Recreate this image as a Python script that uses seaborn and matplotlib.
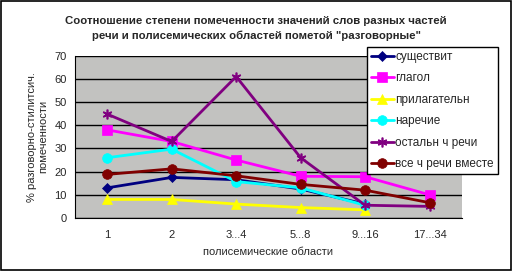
import numpy as np
import pandas as pd
import seaborn as sns
import matplotlib
matplotlib.use("Agg")
import matplotlib.pyplot as plt

categories = ["1", "2", "3...4", "5...8", "9...16", "17...34"]
series_names = ["существит", "глагол", "прилагательн", "наречие",
                "остальн ч речи", "все ч речи вместе"]
noun = [13, 17.5, 16.5, 12.5, 6, np.nan]
verb = [38, 33, 25, 18, 17.8, 10]
adj = [8, 8, 6, 4.5, 3.5, np.nan]
adv = [26, 29.7, 15.7, 13, 5.5, np.nan]
other = [44.8, 33, 61, 26, 5.5, 5]
allpos = [18.8, 21.2, 18.2, 14.5, 12, 6.6]
values = [noun, verb, adj, adv, other, allpos]

colors = ["#000080", "#ff00ff", "#ffff00", "#00ffff", "#800080", "#800000"]
markers = ["D", "s", "^", "o", (6, 2, 0), "o"]
msizes = [5, 7, 7, 7, 7, 7]

sns.set_style("white")
plt.rcParams['font.family'] = ['Liberation Sans', 'DejaVu Sans']

rows = []
for name, vals in zip(series_names, values):
    for i, v in enumerate(vals):
        rows.append({"x": i, "y": v, "series": name})
df = pd.DataFrame(rows).dropna()

fig = plt.figure(figsize=(5.12, 2.71), dpi=100)
ax = fig.add_axes([0.1465, 0.1956, 0.902 - 0.1465, 0.7945 - 0.1956])
ax.set_facecolor("#c2c2c0")

for name, col, mk, ms in zip(series_names, colors, markers, msizes):
    sub = df[df["series"] == name]
    sns.lineplot(data=sub, x="x", y="y", ax=ax, color=col, marker=mk,
                 markersize=ms, linewidth=2, markeredgecolor=col,
                 markeredgewidth=1.2 if isinstance(mk, tuple) else 0.5,
                 label=name, legend=False)

ax.set_xlim(-0.5, len(categories) - 0.5)
ax.set_ylim(0, 70)
ax.set_yticks(range(0, 71, 10))
ax.yaxis.grid(True, color="black", linewidth=1)
ax.xaxis.grid(False)
ax.set_axisbelow(True)
ax.set_xticks(np.arange(len(categories)))
ax.set_xticklabels(categories)
ax.set_xticks(np.arange(-0.5, len(categories), 1), minor=True)
ax.tick_params(axis="x", which="major", length=0, pad=9, labelsize=8)
ax.tick_params(axis="x", which="minor", length=4, direction="out", color="black")
ax.tick_params(axis="y", length=4, direction="out", color="black", labelsize=8, pad=2)
for s in ["top", "right"]:
    ax.spines[s].set_visible(False)
ax.spines["left"].set_color("black")
ax.spines["bottom"].set_color("black")
ax.set_xlabel("полисемические области", fontsize=8, labelpad=5)
ax.set_ylabel("% разговорно-стилитсич.\nпомеченности", fontsize=8, labelpad=4)

fig.suptitle("Соотношение степени помеченности значений слов разных частей\n"
             "речи и полисемических областей пометой \"разговорные\"",
             fontsize=8.2, fontweight="bold", y=0.94, linespacing=1.5)

handles, labels = ax.get_legend_handles_labels()
leg = fig.legend(handles, labels, loc="upper left",
                 bbox_to_anchor=(0.717, 0.827), fontsize=8.5,
                 frameon=True, fancybox=False, edgecolor="black",
                 framealpha=1, borderpad=0.35, labelspacing=0.8,
                 handlelength=1.9, handletextpad=0.15, borderaxespad=0)
leg.get_frame().set_linewidth(1)

fig.patches.append(plt.Rectangle((0.001, 0.002), 0.997, 0.995, transform=fig.transFigure,
                                 fill=False, edgecolor="black", linewidth=1.2))
fig.savefig("out.png", dpi=100, facecolor="white")
